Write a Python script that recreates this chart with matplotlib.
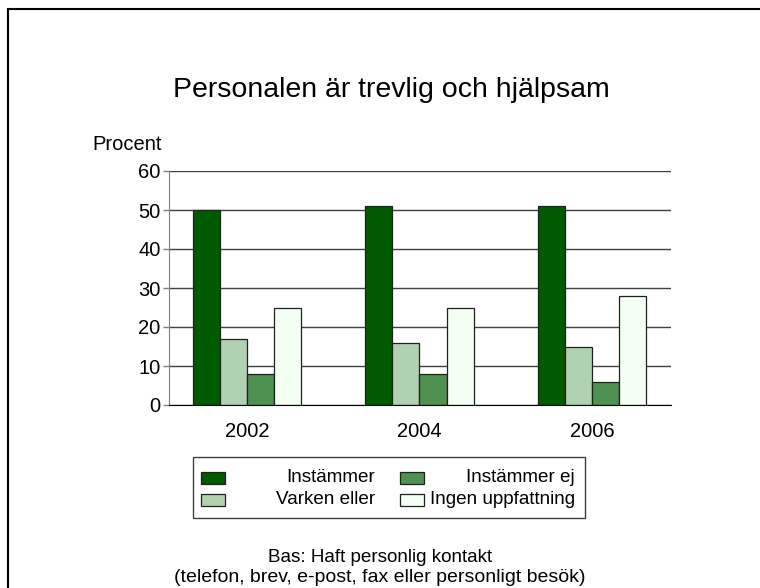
import numpy as np
import matplotlib.pyplot as plt
from matplotlib.patches import Rectangle

plt.rcParams['font.family'] = ['Liberation Sans', 'DejaVu Sans']

# data
years = ['2002', '2004', '2006']
series = ['Instämmer', 'Varken eller', 'Instämmer ej', 'Ingen uppfattning']
instammer = [50, 51, 51]
varken = [17, 16, 15]
instammer_ej = [8, 8, 6]
ingen = [25, 25, 28]
colors = ['#005a00', '#b0d2b0', '#4f9150', '#f2fff2']

fig = plt.figure(figsize=(7.6, 5.88), dpi=100)
fig.patch.set_facecolor('white')

# outer frame (right and bottom run off the picture)
fig.add_artist(Rectangle((8 / 760, -0.1), 1.2, 1 - 9 / 588 + 0.1,
                         transform=fig.transFigure, fill=False,
                         edgecolor='black', linewidth=1.5))

ax = fig.add_axes([169 / 760, 1 - 405 / 588, (671 - 169) / 760, (405 - 171) / 588])

x = np.arange(len(years))
w = 0.157
vals = [instammer, varken, instammer_ej, ingen]
for i, (v, c) in enumerate(zip(vals, colors)):
    ax.bar(x + (i - 1.5) * w, v, w, color=c, edgecolor='#202020',
           linewidth=0.9, zorder=3)

ax.set_xlim(-0.452, 2.458)
ax.set_ylim(0, 60)
ax.set_yticks(range(0, 61, 10))
ax.yaxis.grid(True, color='#404040', linewidth=1, zorder=0)
ax.set_xticks(x)
ax.set_xticklabels(years, fontsize=14.5)
ax.tick_params(axis='x', length=0, pad=12)
ax.tick_params(axis='y', labelsize=14.5, length=4, color='#808080', width=1, pad=2)
for s in ['top', 'right']:
    ax.spines[s].set_visible(False)
ax.spines['left'].set_color('#808080')
ax.spines['bottom'].set_color('black')
ax.spines['bottom'].set_zorder(4)

fig.text(391 / 760, 1 - 90 / 588, 'Personalen är trevlig och hjälpsam',
         ha='center', va='center', fontsize=20.5)
fig.text(127 / 760, 1 - 145 / 588, 'Procent', ha='center', va='center', fontsize=14.5)

# legend drawn by hand (labels right-aligned like the original)
fig.add_artist(Rectangle((193 / 760, 1 - 518 / 588), (585 - 193) / 760, (518 - 457) / 588,
                         transform=fig.transFigure, facecolor='white',
                         edgecolor='#404040', linewidth=1))
leg_items = [(0, 201, 375, 478), (2, 400, 575, 478), (1, 201, 375, 500), (3, 400, 575, 500)]
for idx, hx, tx, ty in leg_items:
    fig.add_artist(Rectangle((hx / 760, 1 - (ty + 6) / 588), 24 / 760, 12 / 588,
                             transform=fig.transFigure, facecolor=colors[idx],
                             edgecolor='#202020', linewidth=0.9))
    fig.text(tx / 760, 1 - ty / 588, series[idx], ha='right', va='center', fontsize=13.6)

fig.text(380 / 760, 1 - 558 / 588, 'Bas: Haft personlig kontakt',
         ha='center', va='center', fontsize=13.6)
fig.text(380 / 760, 1 - 578 / 588, '(telefon, brev, e-post, fax eller personligt besök)',
         ha='center', va='center', fontsize=14)

fig.savefig('out.png', dpi=100)
